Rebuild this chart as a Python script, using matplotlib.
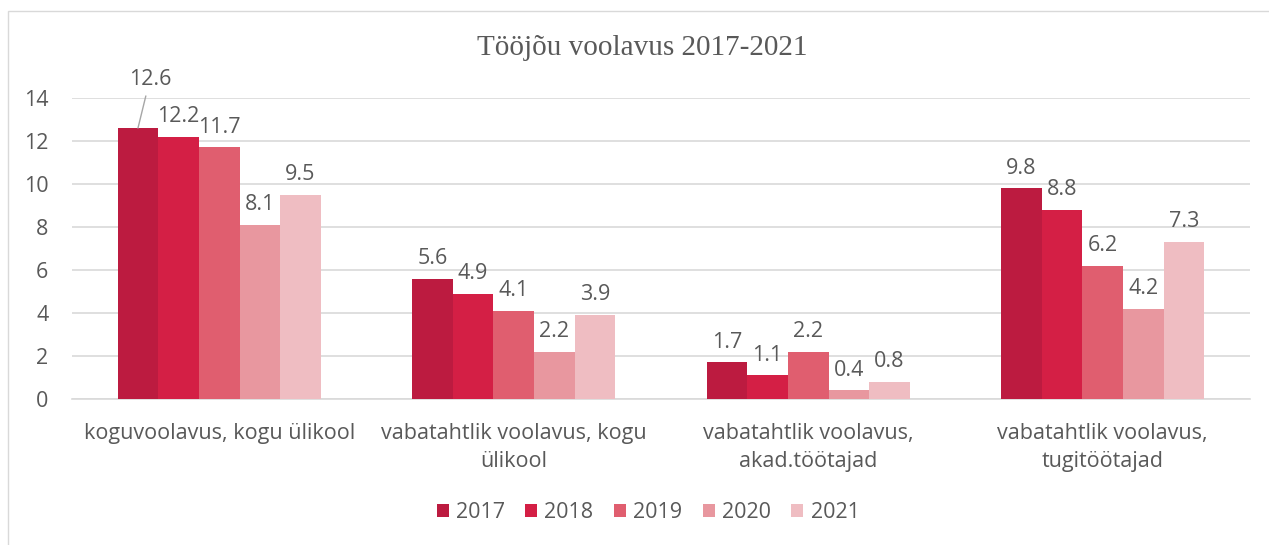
import numpy as np
import matplotlib.pyplot as plt
from matplotlib.patches import Rectangle

categories = ['koguvoolavus, kogu ülikool', 'vabatahtlik voolavus, kogu\nülikool',
              'vabatahtlik voolavus,\nakad.töötajad', 'vabatahtlik voolavus,\ntugitöötajad']
years = ['2017', '2018', '2019', '2020', '2021']
v2017 = [12.6, 5.6, 1.7, 9.8]
v2018 = [12.2, 4.9, 1.1, 8.8]
v2019 = [11.7, 4.1, 2.2, 6.2]
v2020 = [8.1, 2.2, 0.4, 4.2]
v2021 = [9.5, 3.9, 0.8, 7.3]
colors = ['#BC1B40', '#D41F45', '#E05E6F', '#E8979F', '#EFBDC2']

TXT = '#595959'
FS = 15.5

def main():
    plt.rcParams['font.family'] = ['Open Sans', 'DejaVu Sans']
    fig = plt.figure(figsize=(12.69, 5.45), dpi=100, facecolor='w')
    # chart border (only top and left visible in the crop)
    fig.add_artist(Rectangle((8/1269, -0.1), 1.2, (545-11)/545 + 0.1, transform=fig.transFigure,
                             fill=False, edgecolor='#D9D9D9', lw=1))
    ax = fig.add_axes([72/1269, 1-399/545, (1250-72)/1269, (399-98)/545])

    series = [v2017, v2018, v2019, v2020, v2021]
    x = np.arange(len(categories))
    w = 0.138
    for i, (vals, c, yr) in enumerate(zip(series, colors, years)):
        pos = x + (i - 2) * w
        ax.bar(pos, vals, width=w, color=c, label=yr, zorder=3)
        for j, (px, v) in enumerate(zip(pos, vals)):
            if i == 0 and j == 0:
                ax.annotate(f'{v:.1f}', xy=(px, v), xytext=(px + 0.04, v + 1.75),
                            ha='center', va='bottom', fontsize=FS, color=TXT,
                            arrowprops=dict(arrowstyle='-', color='#A6A6A6', lw=1,
                                            shrinkA=2, shrinkB=0))
            else:
                ax.annotate(f'{v:.1f}', xy=(px, v), xytext=(0, 7), textcoords='offset points',
                            ha='center', va='bottom', fontsize=FS, color=TXT)

    ax.set_xlim(-0.5, 3.5)
    ax.set_ylim(0, 14)
    ax.set_yticks(range(0, 15, 2))
    ax.set_xticks(x)
    ax.set_xticklabels(categories, fontsize=FS, color=TXT, linespacing=1.45)
    ax.tick_params(axis='y', labelsize=FS, labelcolor=TXT, length=0, pad=17)
    ax.tick_params(axis='x', length=0, pad=17)
    ax.grid(axis='y', color='#D9D9D9', lw=1.2, zorder=0)
    for s in ['top', 'right', 'left']:
        ax.spines[s].set_visible(False)
    ax.spines['bottom'].set_color('#D9D9D9')
    ax.spines['bottom'].set_linewidth(1.2)

    fig.text(642/1269, 1-48/545, 'Tööjõu voolavus 2017-2021', ha='center', va='center',
             fontsize=21, color=TXT, family='Liberation Serif')

    fig.legend(loc='center', bbox_to_anchor=(648/1269, 1-513/545), ncol=5, frameon=False,
               fontsize=FS, labelcolor=TXT, handlelength=0.56, handleheight=0.56,
               handletextpad=0.33, columnspacing=0.95)

    plt.savefig('out.png', dpi=100)

if __name__ == '__main__':
    main()
